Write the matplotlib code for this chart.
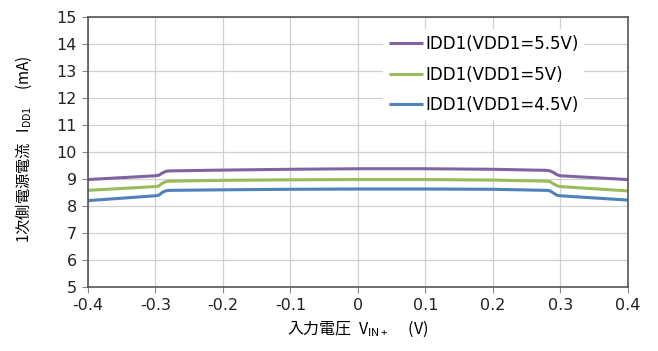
import matplotlib
matplotlib.use('Agg')
import matplotlib.pyplot as plt

plt.rcParams['font.family'] = ['DejaVu Sans', 'Noto Sans CJK JP']
plt.rcParams['mathtext.fontset'] = 'custom'
plt.rcParams['mathtext.rm'] = 'DejaVu Sans'

# Input voltage (V)
vin = [-0.4, -0.3, -0.295, -0.29, -0.285, -0.28, -0.2, -0.1, 0.0,
       0.1, 0.2, 0.28, 0.285, 0.29, 0.295, 0.3, 0.4]

# Supply current IDD1 (mA)
idd_55 = [8.98, 9.12, 9.14, 9.22, 9.28, 9.30, 9.33, 9.36, 9.38,
          9.38, 9.36, 9.32, 9.30, 9.24, 9.16, 9.12, 8.98]
idd_50 = [8.58, 8.72, 8.74, 8.84, 8.90, 8.92, 8.95, 8.97, 8.98,
          8.98, 8.96, 8.92, 8.90, 8.82, 8.75, 8.72, 8.56]
idd_45 = [8.20, 8.38, 8.40, 8.50, 8.56, 8.58, 8.60, 8.62, 8.63,
          8.63, 8.62, 8.58, 8.56, 8.48, 8.40, 8.38, 8.22]

labels = ['IDD1(VDD1=5.5V)', 'IDD1(VDD1=5V)', 'IDD1(VDD1=4.5V)']
colors = ['#8064A2', '#9BBB59', '#4F81BD']

fig = plt.figure(figsize=(6.58, 3.51), dpi=100)
ax = fig.add_axes([0.1337, 0.182, 0.8203, 0.770])

for ys, lab, c in zip([idd_55, idd_50, idd_45], labels, colors):
    ax.plot(vin, ys, color=c, lw=2.2, label=lab, solid_capstyle='butt')

ax.set_xlim(-0.4, 0.4)
ax.set_ylim(5, 15)
ax.set_xticks([-0.4, -0.3, -0.2, -0.1, 0, 0.1, 0.2, 0.3, 0.4])
ax.set_xticklabels(['-0.4', '-0.3', '-0.2', '-0.1', '0', '0.1', '0.2', '0.3', '0.4'])
ax.set_yticks(range(5, 16))
ax.grid(True, color='#d0d0d0', lw=0.9)
ax.set_axisbelow(True)
for s in ax.spines.values():
    s.set_color('#555555')
    s.set_linewidth(1.2)
ax.tick_params(direction='out', length=4, color='#888888', labelsize=11.5,
               labelcolor='#222222', pad=4)

ax.set_xlabel('入力電圧  $\\mathregular{V_{IN+}}$     (V)', fontsize=11.5,
              family=['Noto Sans CJK JP', 'DejaVu Sans'], labelpad=4)
ax.set_ylabel('1次側電源電流   $\\mathregular{I_{DD1}}$     (mA)', fontsize=11,
              family=['Noto Sans CJK JP', 'DejaVu Sans'])
ax.yaxis.set_label_coords(-0.1, 0.51)

leg = ax.legend(loc='upper right', bbox_to_anchor=(0.935, 0.985), frameon=True,
                fontsize=12, handlelength=2.0, handletextpad=0.15,
                labelspacing=0.75, borderpad=0.35)
leg.get_frame().set_facecolor('white')
leg.get_frame().set_edgecolor('none')
leg.get_frame().set_alpha(1)

fig.savefig('out.png', dpi=100)
plt.close(fig)
